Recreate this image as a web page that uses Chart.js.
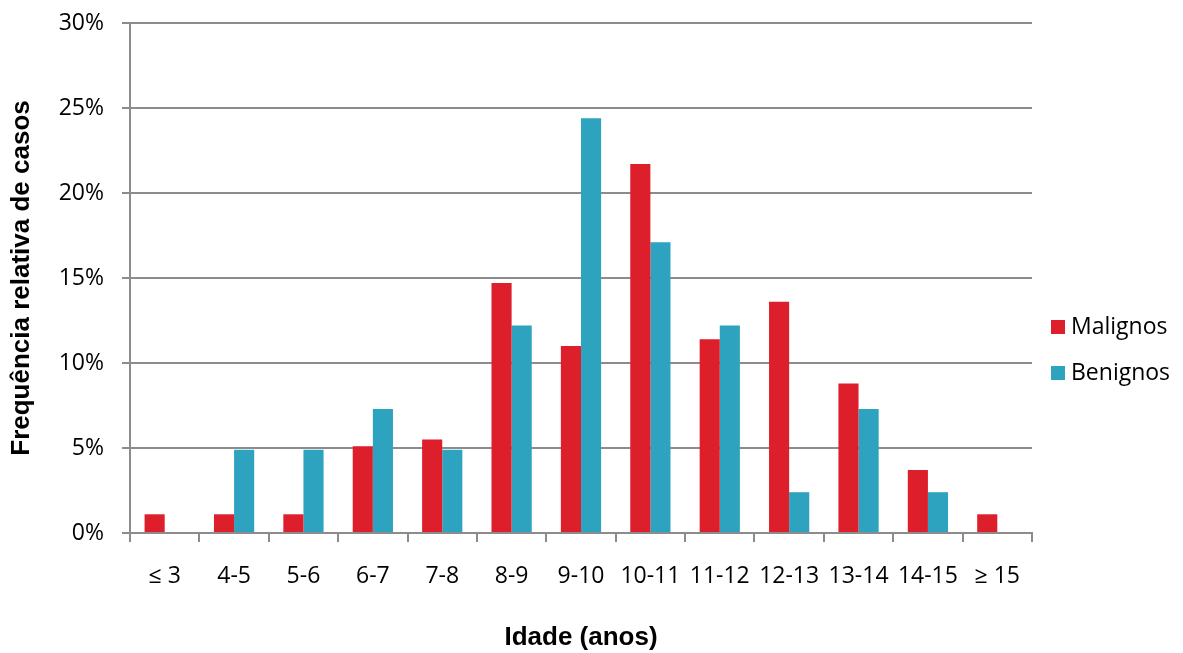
<!DOCTYPE html>
<html>
<head>
<meta charset="utf-8">
<script src="https://cdn.jsdelivr.net/npm/chart.js@4/dist/chart.umd.min.js"></script>
<style>
  html, body { margin: 0; padding: 0; background: #fff; }
  #wrap { width: 1183px; height: 653px; position: relative; }
</style>
</head>
<body>
<div id="wrap"><canvas id="chart" width="1183" height="653"></canvas></div>
<script>
const categories = ['≤ 3', '4-5', '5-6', '6-7', '7-8', '8-9', '9-10', '10-11', '11-12', '12-13', '13-14', '14-15', '≥ 15'];
const malignos = [1.1, 1.1, 1.1, 5.1, 5.5, 14.7, 11.0, 21.7, 11.4, 13.6, 8.8, 3.7, 1.1];
const benignos = [0, 4.9, 4.9, 7.3, 4.9, 12.2, 24.4, 17.1, 12.2, 2.4, 7.3, 2.4, 0];
const yTicks = [0, 5, 10, 15, 20, 25, 30];

const RED = '#dc1f2b';
const TEAL = '#2ea3bf';
const GRID = '#8c8c8c';
const TICK_FONT = { family: '"Open Sans", "Liberation Sans", sans-serif', size: 23 };
const TITLE_FONT = { family: '"Liberation Sans", Arial, sans-serif', size: 26, weight: 'bold' };

// legend drawn at the right, like the original
const sideLegend = {
  id: 'sideLegend',
  afterDraw(chart) {
    const c = chart.ctx;
    c.save();
    c.font = '23px "Open Sans", "Liberation Sans", sans-serif';
    c.textBaseline = 'middle';
    chart.data.datasets.forEach((ds, i) => {
      const y = 327 + i * 46;
      c.fillStyle = ds.backgroundColor;
      c.fillRect(1051, y - 7, 14, 14);
      c.fillStyle = '#000';
      c.fillText(ds.label, 1071, y);
    });
    c.restore();
  }
};

new Chart(document.getElementById('chart'), {
  type: 'bar',
  data: {
    labels: categories,
    datasets: [
      { label: 'Malignos', data: malignos, backgroundColor: RED },
      { label: 'Benignos', data: benignos, backgroundColor: TEAL }
    ]
  },
  options: {
    responsive: false,
    animation: false,
    categoryPercentage: 0.58,
    barPercentage: 1.0,
    layout: { padding: { left: 6, right: 151, top: 23, bottom: 0 } },
    plugins: {
      legend: { display: false },
      tooltip: { enabled: false }
    },
    scales: {
      x: {
        grid: { display: true, drawOnChartArea: false, drawTicks: true, tickLength: 9, color: GRID, lineWidth: 2 },
        border: { display: true, color: GRID, width: 2 },
        ticks: { color: '#000', font: TICK_FONT, padding: 21, maxRotation: 0, autoSkip: false },
        title: {
          display: true, text: 'Idade (anos)', color: '#000',
          font: TITLE_FONT,
          padding: { top: 20, bottom: 0 }
        },
        afterFit(s) { s.height = 120; }
      },
      y: {
        min: 0, max: 30,
        afterBuildTicks(s) { s.ticks = yTicks.map(v => ({ value: v })); },
        grid: { color: GRID, lineWidth: 2, tickLength: 8 },
        border: { display: true, color: GRID, width: 2 },
        ticks: { color: '#000', font: TICK_FONT, padding: 18, callback: v => v + '%' },
        title: {
          display: true, text: 'Frequência relativa de casos', color: '#000',
          font: TITLE_FONT,
          padding: { top: 0, bottom: 20 }
        },
        afterFit(s) { s.width = 124; s.paddingTop = 0; s.paddingBottom = 0; }
      }
    }
  },
  plugins: [sideLegend]
});
</script>
</body>
</html>
